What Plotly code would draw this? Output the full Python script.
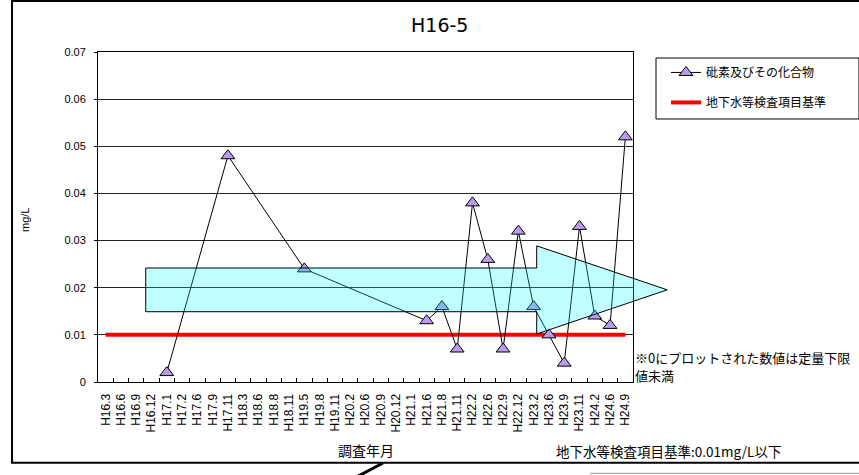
import plotly.graph_objects as go

# Survey months (Heisei year.month) along the category axis
survey_months = [
    "H16.3", "H16.6", "H16.9", "H16.12", "H17.1", "H17.2", "H17.6", "H17.9",
    "H17.11", "H18.3", "H18.6", "H18.8", "H18.11", "H19.5", "H19.8", "H19.11",
    "H20.2", "H20.6", "H20.9", "H20.12", "H21.1", "H21.6", "H21.8", "H21.11",
    "H22.2", "H22.6", "H22.9", "H22.12", "H23.2", "H23.6", "H23.9", "H23.11",
    "H24.2", "H24.6", "H24.9",
]

# Arsenic and its compounds (mg/L); None where no measurement was taken
arsenic = [
    None, None, None, None, 0.002, None, None, None,
    0.048, None, None, None, None, 0.024, None, None,
    None, None, None, None, None, 0.013, 0.016, 0.007,
    0.038, 0.026, 0.007, 0.032, 0.016, 0.010, 0.004, 0.033,
    0.014, 0.012, 0.052,
]

# Groundwater inspection standard (mg/L)
standard_value = 0.01
standard = [standard_value] * len(survey_months)

# Trend arrow levels (mg/L): body top/bottom, head top/bottom, tip
arrow_body = (0.02418, 0.01491)
arrow_head = (0.02888, 0.01018)
arrow_tip = 0.01955

JP = "Noto Sans CJK JP"
LAT = "Liberation Sans, Arial, sans-serif"

fig = go.Figure()

fig.add_trace(go.Scatter(
    x=survey_months, y=standard, mode="lines",
    name="地下水等検査項目基準",
    line=dict(color="#ff0000", width=4),
    legendgroup="b", legendrank=2,
))

fig.add_trace(go.Scatter(
    x=survey_months, y=arsenic, mode="lines+markers",
    name="砒素及びその化合物",
    connectgaps=True,
    line=dict(color="#000000", width=1),
    marker=dict(symbol="triangle-up", size=12, color="#b99cf0",
                line=dict(color="#000000", width=1)),
    legendgroup="a", legendrank=1,
))

# Trend arrow (x in paper units, y in data units)
bx0, bx1, tipx = 0.0892, 0.820, 1.064
arrow_path = (
    f"M {bx0},{arrow_body[0]} L {bx1},{arrow_body[0]} L {bx1},{arrow_head[0]} "
    f"L {tipx},{arrow_tip} L {bx1},{arrow_head[1]} L {bx1},{arrow_body[1]} "
    f"L {bx0},{arrow_body[1]} Z"
)

shapes = [
    dict(type="path", path=arrow_path, xref="paper", yref="y",
         fillcolor="rgba(0,255,255,0.25)", line=dict(color="#000000", width=1),
         layer="above"),
    # legend frame
    dict(type="rect", xref="paper", yref="paper", x0=1.043, x1=1.4224,
         y0=0.797, y1=0.9818, line=dict(color="#000000", width=1)),
    # outer chart frame
    dict(type="rect", xref="paper", yref="paper", x0=-0.1607, x1=1.6,
         y0=-0.2445, y1=1.1545, line=dict(color="#000000", width=2)),
    # neighbouring drawing fragments along the lower edge
    dict(type="line", xref="paper", yref="paper", x0=0.483, y0=-0.288,
         x1=0.5327, y1=-0.2455, line=dict(color="#000000", width=3)),
    dict(type="line", xref="paper", yref="paper", x0=0.9196, y0=-0.2767,
         x1=1.6, y1=-0.2767, line=dict(color="#999999", width=1)),
]

annotations = [
    dict(text="H16-5", xref="paper", yref="paper", x=0.6374, y=1.0818,
         xanchor="center", yanchor="middle", showarrow=False,
         font=dict(family="DejaVu Sans", size=19, color="#000")),
    dict(text="mg/L", xref="paper", yref="paper", x=-0.1364, y=0.4909,
         xanchor="center", yanchor="middle", textangle=-90, showarrow=False,
         font=dict(family=LAT, size=11, color="#000")),
    dict(text="調査年月", xref="paper", yref="paper", x=0.5, y=-0.2075,
         xanchor="center", yanchor="middle", showarrow=False,
         font=dict(family=JP, size=14, color="#000")),
    dict(text="地下水等検査項目基準:0.01mg/L以下", xref="paper", yref="paper",
         x=1.066, y=-0.2095, xanchor="center", yanchor="middle", showarrow=False,
         font=dict(family=JP, size=13.5, color="#000")),
    dict(text="※0にプロットされた数値は定量下限", xref="paper", yref="paper",
         x=1.0, xanchor="left", y=0.0748, yanchor="middle", align="left",
         showarrow=False, font=dict(family=JP, size=13, color="#000")),
    dict(text="値未満", xref="paper", yref="paper",
         x=1.0, xanchor="left", y=0.0182, yanchor="middle", align="left",
         showarrow=False, font=dict(family=JP, size=13, color="#000")),
]

fig.update_layout(
    width=859, height=475,
    margin=dict(l=98, r=226, t=52, b=93),
    paper_bgcolor="#ffffff", plot_bgcolor="#ffffff",
    showlegend=True,
    legend=dict(x=1.0617, y=0.982, xanchor="left", yanchor="top",
                borderwidth=0, bgcolor="rgba(0,0,0,0)",
                font=dict(family=JP, size=12, color="#000"),
                traceorder="grouped", tracegroupgap=11),
    shapes=shapes,
    annotations=annotations,
    font=dict(family=LAT, color="#000"),
)

fig.update_xaxes(
    type="category", categoryorder="array", categoryarray=survey_months,
    range=[-0.5, len(survey_months) - 0.5],
    tickangle=-90, tickson="boundaries", ticks="inside", ticklen=4,
    tickcolor="#000", tickfont=dict(family=LAT, size=12, color="#000"),
    showline=True, linecolor="#000", linewidth=1, mirror=True,
    showgrid=False, ticklabelstandoff=6,
)

fig.update_yaxes(
    range=[0, 0.07], dtick=0.01, tick0=0,
    ticks="outside", ticklen=3, tickcolor="#000",
    tickfont=dict(family=LAT, size=11, color="#000"),
    showline=True, linecolor="#000", linewidth=1, mirror=True,
    showgrid=True, gridcolor="#222222", gridwidth=1,
    zeroline=False, ticklabelstandoff=6,
)

fig.write_html("out.html")
